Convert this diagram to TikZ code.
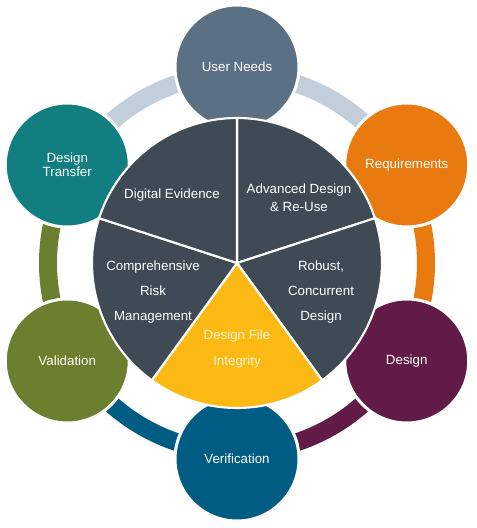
\documentclass[tikz,border=0pt]{standalone}
\usepackage{fontspec}
\setmainfont{Liberation Sans}
\definecolor{cUN}{HTML}{5B7083}
\definecolor{cRQ}{HTML}{E97A10}
\definecolor{cDS}{HTML}{621A47}
\definecolor{cVF}{HTML}{005C83}
\definecolor{cVL}{HTML}{6B7F2E}
\definecolor{cDT}{HTML}{117F80}
\definecolor{cBand}{HTML}{C2CED9}
\definecolor{cPie}{HTML}{3F4A55}
\definecolor{cYel}{HTML}{FDB913}
\definecolor{cYelTxt}{HTML}{FFF3D2}
\begin{document}
\begin{tikzpicture}[x=0.75pt,y=0.75pt,
  band/.style={line width=13.5pt},
  circ/.style={circle, minimum size=93pt, inner sep=0pt, draw=white, line width=2.25pt, text=white, align=center, font=\fontsize{10}{10.5}\selectfont},
  slice/.style={fill=cPie, draw=white, line width=1.6pt, line join=round},
  lbl/.style={text=white, align=center, font=\fontsize{10}{13.5}\selectfont}]
\useasboundingbox (0,0) rectangle (477,528);
\coordinate (c) at (237,265);
% bands
\draw[band, cBand] ([shift={(90:189)}]c) arc (90:30:189);
\draw[band, cRQ] ([shift={(30:189)}]c) arc (30:-30:189);
\draw[band, cDS] ([shift={(-30:189)}]c) arc (-30:-90:189);
\draw[band, cVF] ([shift={(-90:189)}]c) arc (-90:-150:189);
\draw[band, cVL] ([shift={(-150:189)}]c) arc (-150:-210:189);
\draw[band, cBand] ([shift={(150:189)}]c) arc (150:90:189);
% outer circles
\node[circ, fill=cUN] (un) at ([shift={(90:196)}]c) {User Needs};
\node[circ, fill=cRQ] (rq) at ([shift={(30:196)}]c) {Requirements};
\node[circ, fill=cDS] (ds) at ([shift={(-30:196)}]c) {Design};
\node[circ, fill=cVF] (vf) at ([shift={(-90:196)}]c) {Verification};
\node[circ, fill=cVL] (vl) at ([shift={(-150:196)}]c) {Validation};
\node[circ, fill=cDT] (dt) at ([shift={(150:196)}]c) {Design\\Transfer};
% pie
\filldraw[slice] (c) -- ([shift={(90:145)}]c) arc (90:18:145) -- cycle;
\filldraw[slice] (c) -- ([shift={(18:145)}]c) arc (18:-54:145) -- cycle;
\filldraw[slice, fill=cYel] (c) -- ([shift={(-54:145)}]c) arc (-54:-126:145) -- cycle;
\filldraw[slice] (c) -- ([shift={(-126:145)}]c) arc (-126:-198:145) -- cycle;
\filldraw[slice] (c) -- ([shift={(162:145)}]c) arc (162:90:145) -- cycle;
% labels
\node[lbl] (de) at (172,333) {Digital Evidence};
\node[lbl, font=\fontsize{10}{13.5}\selectfont] (ad) at (299,330) {Advanced Design\\\& Re-Use};
\node[lbl, font=\fontsize{10}{18.75}\selectfont] (cr) at (153,236) {Comprehensive\\Risk\\Management};
\node[lbl, font=\fontsize{10}{18.75}\selectfont] (rc) at (321,236) {Robust,\\Concurrent\\Design};
\node[lbl, text=cYelTxt, font=\fontsize{10}{19.5}\selectfont] (df) at (237,179) {Design File\\Integrity};
\end{tikzpicture}
\end{document}
